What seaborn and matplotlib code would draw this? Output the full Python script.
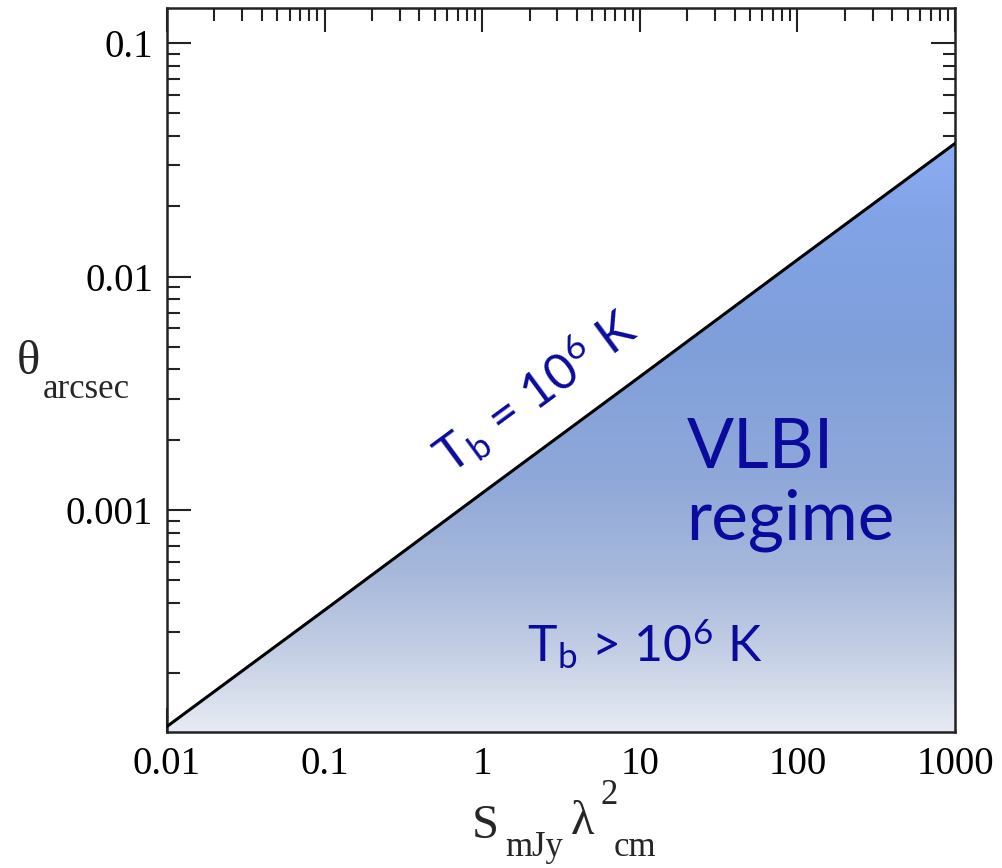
import numpy as np
import pandas as pd
import matplotlib
matplotlib.use("Agg")
import matplotlib.pyplot as plt
from matplotlib.colors import LinearSegmentedColormap
import seaborn as sns

# Data
s_lambda2 = [0.01, 0.1, 1, 10, 100, 1000]
theta_arcsec = [1.18e-4, 3.72e-4, 1.18e-3, 3.72e-3, 1.18e-2, 3.72e-2]
x_ticks = [0.01, 0.1, 1, 10, 100, 1000]
x_ticklabels = ["0.01", "0.1", "1", "10", "100", "1000"]
y_ticks = [0.001, 0.01, 0.1]
y_ticklabels = ["0.001", "0.01", "0.1"]

df = pd.DataFrame({"x": s_lambda2, "y": theta_arcsec})

sns.set_theme(style="ticks")
plt.rcParams["font.family"] = ["Liberation Serif", "DejaVu Serif"]
plt.rcParams["mathtext.fontset"] = "stix"

fig = plt.figure(figsize=(10.03, 8.68), dpi=100)
ax = fig.add_axes([167 / 1003, 1 - 732 / 868, (955 - 167) / 1003, (732 - 8) / 868])

sns.lineplot(data=df, x="x", y="y", ax=ax, color="black", linewidth=2.2, zorder=4)
ax.set_xscale("log")
ax.set_yscale("log")
ax.set_xlim(0.01, 1000)
ax.set_ylim(1.117e-4, 0.1416)

# gradient fill below the line
poly = ax.fill_between(df["x"], df["y"], 1e-6, color="none", linewidth=0)
cmap = LinearSegmentedColormap.from_list(
    "grad",
    [(0.0, "#e6eaf3"), (0.113, "#c3cee4"), (0.21, "#a9badb"), (0.348, "#8fa8d9"),
     (0.535, "#7f9fdb"), (0.713, "#82a3e6"), (0.81, "#8cadf3"), (1.0, "#95b5fa")])
grad = np.linspace(0, 1, 512).reshape(-1, 1)
img = ax.imshow(grad, cmap=cmap, aspect="auto", origin="lower",
                extent=[0, 1, 0, 1], transform=ax.transAxes, zorder=1)
paths = poly.get_paths()
img.set_clip_path(paths[0], transform=ax.transData)
ax.set_xlim(0.01, 1000)
ax.set_ylim(1.117e-4, 0.1416)

ax.set_xticks(x_ticks)
ax.set_xticklabels(x_ticklabels)
ax.set_yticks(y_ticks)
ax.set_yticklabels(y_ticklabels)
ax.tick_params(which="major", direction="in", length=17, width=1.5,
               top=True, right=True, labelsize=28, pad=10, color="#222222",
               labelcolor="black")
ax.tick_params(which="minor", direction="in", length=9, width=1.5,
               top=True, right=True, color="#222222")
for sp in ax.spines.values():
    sp.set_linewidth(1.8)
    sp.set_color("#222222")
ax.set_xlabel("")
ax.set_ylabel("")

# axis labels (upright Greek, Times-like)
serif = ["Liberation Serif", "DejaVu Serif"]
fig.text(17 / 1003, 1 - 362 / 868, "θ", fontsize=35, ha="left", va="center", family=serif)
fig.text(43 / 1003, 1 - 390 / 868, "arcsec", fontsize=25, ha="left", va="center", family=serif)
fig.text(472 / 1003, 1 - 826 / 868, "S", fontsize=35, ha="left", va="center", family=serif)
fig.text(505 / 1003, 1 - 848 / 868, "mJy", fontsize=25, ha="left", va="center", family=serif)
fig.text(571 / 1003, 1 - 822 / 868, "λ", fontsize=35, ha="left", va="center", family=serif)
fig.text(601 / 1003, 1 - 796 / 868, "2", fontsize=25, ha="left", va="center", family=serif)
fig.text(614 / 1003, 1 - 848 / 868, "cm", fontsize=25, ha="left", va="center", family=serif)

navy = "#0a0a9c"
sans = ["Lato", "DejaVu Sans"]
fig.text(535 / 1003, 1 - 392 / 868, r"T$_\mathregular{b}$ = 10$^\mathregular{6}$ K",
         fontsize=36, color=navy, family=sans, rotation=36.4,
         ha="center", va="center", rotation_mode="anchor")
fig.text(645 / 1003, 1 - 645 / 868, r"T$_\mathregular{b}$ > 10$^\mathregular{6}$ K",
         fontsize=36, color=navy, family=sans, ha="center", va="center")
fig.text(760 / 1003, 1 - 448 / 868, "VLBI", fontsize=50, color=navy, family=sans,
         ha="center", va="center")
fig.text(790 / 1003, 1 - 520 / 868, "regime", fontsize=50, color=navy, family=sans,
         ha="center", va="center")

fig.savefig("out.png", dpi=100)
